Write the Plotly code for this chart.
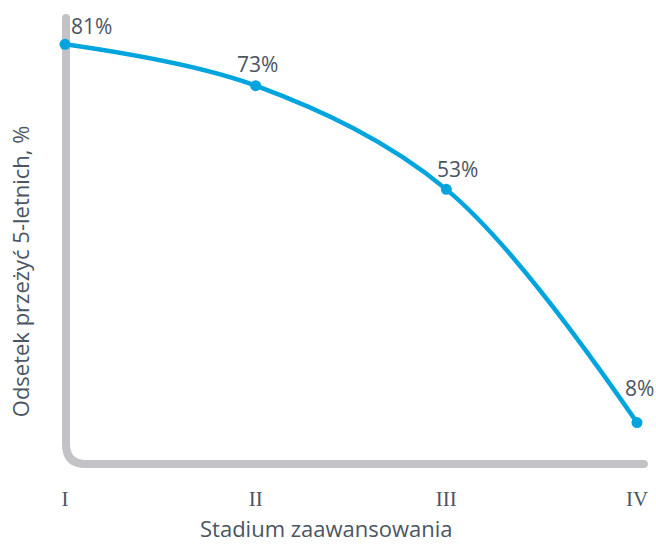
import plotly.graph_objects as go

stages = ["I", "II", "III", "IV"]
survival = [81, 73, 53, 8]
labels = ["81%", "73%", "53%", "8%"]
x_title = "Stadium zaawansowania"
y_title = "Odsetek przeżyć 5-letnich, %"

LINE = "#00a5de"
AXIS = "#c2c2c7"
TXT = "#4b5563"

fig = go.Figure()
fig.add_trace(go.Scatter(
    x=list(range(len(stages))), y=survival,
    mode="lines+markers",
    line=dict(color=LINE, width=4.5, shape="spline", smoothing=1.0),
    marker=dict(color=LINE, size=11),
    cliponaxis=False, hoverinfo="skip", showlegend=False,
))

# label offsets (pixels)
shifts = [(26, 2), (2, 6), (11, 4), (2, 19)]
for i, (lab, (dx, dy)) in enumerate(zip(labels, shifts)):
    fig.add_annotation(x=i, y=survival[i], text=lab, showarrow=False,
                       xanchor="center", yanchor="bottom", xshift=dx, yshift=dy,
                       font=dict(family="Open Sans", size=21, color=TXT))

L, R, T, B = 65, 16, 8, 80
W, H = 656, 544
pw, ph = W - L - R, H - T - B

def px(x):
    return (x - L) / pw

def py(y):
    return (H - B - y) / ph

# axis titles centred on the page
fig.add_annotation(text=x_title, xref="paper", yref="paper", x=px(328), y=py(544),
                   xanchor="center", yanchor="bottom", showarrow=False, borderpad=0,
                   font=dict(family="Open Sans", size=22, color=TXT))
fig.add_annotation(text=y_title, xref="paper", yref="paper", x=px(20), y=py(271),
                   xanchor="center", yanchor="middle", showarrow=False, textangle=-90,
                   font=dict(family="Open Sans", size=22, color=TXT))

path = (f"M {px(66)},{py(18)} L {px(66)},{py(444)} "
        f"Q {px(66)},{py(464)} {px(86)},{py(464)} L {px(647)},{py(464)}")
fig.add_shape(type="path", path=path, xref="paper", yref="paper",
              line=dict(color=AXIS, width=8), layer="below")
for cx, cy in [(66, 18), (647, 464)]:
    fig.add_shape(type="circle", xref="paper", yref="paper",
                  x0=px(cx - 4), x1=px(cx + 4), y0=py(cy + 4), y1=py(cy - 4),
                  line=dict(width=0), fillcolor=AXIS, layer="below")

fig.update_layout(
    width=W, height=H,
    margin=dict(l=L, r=R, t=T, b=B),
    plot_bgcolor="white", paper_bgcolor="white",
    xaxis=dict(range=[0, 3], tickvals=list(range(len(stages))), ticktext=stages,
               showgrid=False, zeroline=False, showline=False,
               ticks="", ticklabelstandoff=20,
               tickfont=dict(family="Liberation Serif", size=21, color=TXT)),
    yaxis=dict(range=[0, 88], showgrid=False, zeroline=False, showline=False,
               showticklabels=False, ticks=""),
)

fig.write_html("out.html")
